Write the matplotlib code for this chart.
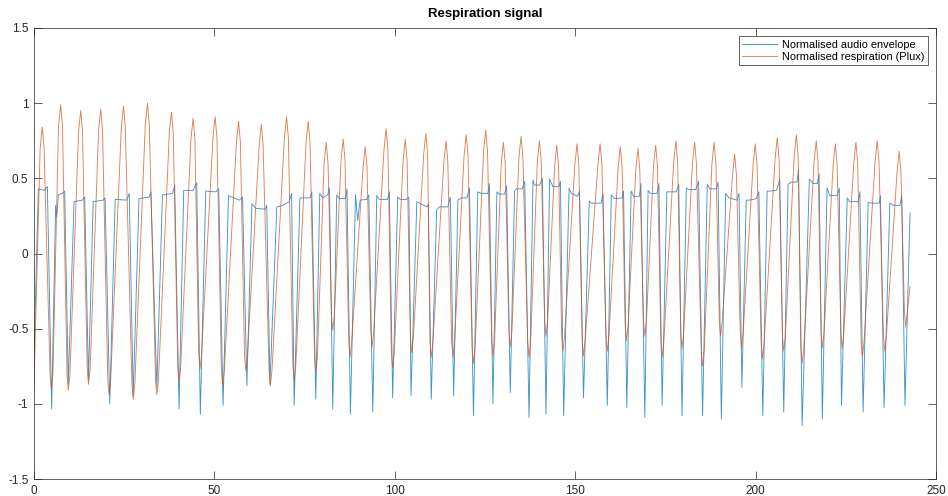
import matplotlib
matplotlib.use('Agg')
import matplotlib.pyplot as plt

plt.rcParams['font.family'] = ['Liberation Sans', 'DejaVu Sans']
plt.rcParams['axes.unicode_minus'] = False

# Normalised respiration (Plux).
# one row per breath: peak shoulder, peak, peak shoulder, trough shoulder, trough, trough shoulder
resp_t = [0,
          1.7, 2.3, 2.8, 4.45, 4.8, 5.25,
          6.8, 7.4, 7.9, 9.15, 9.5, 9.95,
          12.35, 12.95, 13.45, 14.75, 15.1, 15.55,
          17.9, 18.5, 19.0, 20.45, 20.8, 21.25,
          24.2, 24.8, 25.3, 27.15, 27.5, 27.95,
          30.85, 31.45, 31.95, 33.7, 34.05, 34.5,
          37.5, 38.1, 38.6, 39.85, 40.2, 40.65,
          43.5, 44.1, 44.6, 45.65, 46.0, 46.45,
          49.6, 50.2, 50.7, 51.95, 52.3, 52.75,
          56.1, 56.7, 57.2, 58.35, 58.7, 59.15,
          62.4, 63.0, 63.5, 65.15, 65.5, 65.95,
          69.4, 70.0, 70.5, 71.75, 72.1, 72.55,
          75.4, 76.0, 76.5, 77.75, 78.1, 78.55,
          80.4, 81.0, 81.5, 82.45, 82.8, 83.25,
          85.1, 85.7, 86.2, 87.25, 87.6, 88.05,
          91.2, 91.8, 92.3, 93.35, 93.7, 94.15,
          97.0, 97.6, 98.1, 99.05, 99.4, 99.85,
          102.3, 102.9, 103.4, 104.35, 104.7, 105.15,
          108.0, 108.6, 109.1, 109.75, 110.1, 110.55,
          113.6, 114.2, 114.7, 115.75, 116.1, 116.55,
          119.2, 119.8, 120.3, 121.45, 121.8, 122.25,
          124.6, 125.2, 125.7, 126.85, 127.2, 127.65,
          129.5, 130.1, 130.6, 131.65, 132.0, 132.45,
          134.4, 135.0, 135.5, 136.85, 137.2, 137.65,
          139.5, 140.1, 140.6, 141.55, 141.9, 142.35,
          144.3, 144.9, 145.4, 146.25, 146.6, 147.05,
          149.9, 150.5, 151.0, 151.95, 152.3, 152.75,
          156.3, 156.9, 157.4, 158.55, 158.9, 159.35,
          161.9, 162.5, 163.0, 163.85, 164.2, 164.65,
          166.8, 167.4, 167.9, 168.95, 169.3, 169.75,
          171.7, 172.3, 172.8, 173.75, 174.1, 174.55,
          177.3, 177.9, 178.4, 179.25, 179.6, 180.05,
          182.5, 183.1, 183.6, 184.95, 185.3, 185.75,
          187.9, 188.5, 189.0, 189.95, 190.3, 190.75,
          193.6, 194.2, 194.7, 195.75, 196.1, 196.55,
          199.3, 199.9, 200.4, 201.55, 201.9, 202.35,
          205.4, 206.0, 206.5, 207.45, 207.8, 208.25,
          210.7, 211.3, 211.8, 212.55, 212.9, 213.35,
          216.2, 216.8, 217.3, 218.15, 218.5, 218.95,
          221.5, 222.1, 222.6, 223.65, 224.0, 224.45,
          227.2, 227.8, 228.3, 229.25, 229.6, 230.05,
          233.1, 233.7, 234.2, 235.45, 235.8, 236.25,
          239.2, 239.8, 240.3, 241.25, 241.6, 242.05,
          242.8]
resp_y = [-0.88,
          0.70, 0.84, 0.70, -0.80, -0.90, -0.80,
          0.85, 0.99, 0.85, -0.81, -0.91, -0.81,
          0.81, 0.95, 0.81, -0.77, -0.87, -0.77,
          0.82, 0.96, 0.82, -0.84, -0.94, -0.84,
          0.84, 0.98, 0.84, -0.87, -0.97, -0.87,
          0.86, 1.00, 0.86, -0.84, -0.94, -0.84,
          0.80, 0.94, 0.80, -0.75, -0.85, -0.75,
          0.76, 0.90, 0.76, -0.67, -0.77, -0.67,
          0.77, 0.91, 0.77, -0.78, -0.88, -0.78,
          0.74, 0.88, 0.74, -0.68, -0.78, -0.68,
          0.72, 0.86, 0.72, -0.78, -0.88, -0.78,
          0.77, 0.91, 0.77, -0.75, -0.85, -0.75,
          0.74, 0.88, 0.74, -0.69, -0.79, -0.69,
          0.60, 0.74, 0.60, -0.41, -0.51, -0.41,
          0.62, 0.76, 0.62, -0.59, -0.69, -0.59,
          0.57, 0.71, 0.57, -0.52, -0.62, -0.52,
          0.69, 0.83, 0.69, -0.66, -0.76, -0.66,
          0.62, 0.76, 0.62, -0.56, -0.66, -0.56,
          0.66, 0.80, 0.66, -0.59, -0.69, -0.59,
          0.61, 0.75, 0.61, -0.59, -0.69, -0.59,
          0.65, 0.79, 0.65, -0.63, -0.73, -0.63,
          0.68, 0.82, 0.68, -0.58, -0.68, -0.58,
          0.60, 0.74, 0.60, -0.52, -0.62, -0.52,
          0.64, 0.78, 0.64, -0.59, -0.69, -0.59,
          0.61, 0.75, 0.61, -0.45, -0.55, -0.45,
          0.58, 0.72, 0.58, -0.55, -0.65, -0.55,
          0.59, 0.73, 0.59, -0.58, -0.68, -0.58,
          0.59, 0.73, 0.59, -0.55, -0.65, -0.55,
          0.57, 0.71, 0.57, -0.48, -0.58, -0.48,
          0.56, 0.70, 0.56, -0.45, -0.55, -0.45,
          0.58, 0.72, 0.58, -0.59, -0.69, -0.59,
          0.61, 0.75, 0.61, -0.53, -0.63, -0.53,
          0.60, 0.74, 0.60, -0.65, -0.75, -0.65,
          0.60, 0.74, 0.60, -0.45, -0.55, -0.45,
          0.52, 0.66, 0.52, -0.53, -0.63, -0.53,
          0.59, 0.73, 0.59, -0.60, -0.70, -0.60,
          0.63, 0.77, 0.63, -0.55, -0.65, -0.55,
          0.65, 0.79, 0.65, -0.63, -0.73, -0.63,
          0.61, 0.75, 0.61, -0.53, -0.63, -0.53,
          0.59, 0.73, 0.59, -0.53, -0.63, -0.53,
          0.60, 0.74, 0.60, -0.59, -0.69, -0.59,
          0.61, 0.75, 0.61, -0.55, -0.65, -0.55,
          0.54, 0.68, 0.54, -0.39, -0.49, -0.39,
          -0.22]

# Normalised audio envelope: troughs, plateau start/end and end spike of each breath
env_t = [0, 1.2, 2.8, 3.7, 4.9, 6.0, 6.3, 6.75, 7.9, 8.5,
         9.5, 11.1, 13.4, 14.05, 15.1, 16.4, 19.15, 19.7, 21.0, 22.5,
         25.7, 26.4, 27.5, 29.1, 31.9, 32.4, 34.05, 35.6, 38.4, 39.0,
         40.2, 41.5, 44.1, 45.1, 46.1, 47.6, 50.4, 51.2, 52.4, 53.9,
         56.9, 57.8, 59.0, 60.4, 61.5, 64.1, 64.5, 65.4, 67.3, 68.9,
         70.75, 71.4, 72.1, 73.7, 76.5, 77.0, 78.1, 79.2, 80.0, 81.4,
         81.9, 82.8, 83.9, 84.6, 86.3, 86.75, 87.7, 89.1, 89.7, 90.4,
         92.2, 92.8, 93.9, 95.0, 95.7, 98.0, 98.5, 99.4, 100.8, 101.5,
         103.3, 103.9, 104.5, 106.1, 108.9, 109.3, 110.1, 111.6, 112.4, 114.7,
         115.4, 116.3, 117.5, 118.4, 120.0, 120.7, 121.8, 123.0, 123.9, 125.8,
         126.2, 127.2, 128.3, 128.9, 130.4, 131.0, 132.0, 133.2, 133.7, 135.3,
         136.0, 137.2, 138.3, 138.7, 140.1, 140.9, 141.9, 142.9, 143.8, 145.5,
         145.9, 146.8, 148.3, 148.9, 150.7, 151.2, 152.3, 153.9, 154.4, 157.2,
         157.7, 158.9, 160.0, 160.9, 163.0, 163.4, 164.3, 165.5, 166.2, 167.8,
         168.2, 169.3, 170.2, 170.8, 172.7, 173.2, 174.1, 175.4, 176.0, 178.0,
         178.7, 179.6, 180.8, 181.5, 183.4, 184.2, 185.3, 186.6, 187.3, 189.1,
         189.6, 190.5, 191.7, 192.6, 194.8, 195.4, 196.2, 197.4, 198.4, 200.2,
         200.9, 202.0, 203.2, 203.9, 205.8, 206.7, 207.8, 209.0, 209.9, 211.5,
         211.9, 212.9, 214.9, 216.0, 217.1, 217.6, 218.5, 219.8, 220.6, 222.6,
         223.2, 223.8, 225.4, 226.1, 228.4, 228.9, 229.8, 231.2, 232.1, 234.3,
         234.6, 235.6, 237.2, 238.2, 240.0, 240.5, 241.4, 242.8]
env_y = [-0.70, 0.43, 0.42, 0.445, -1.035, 0.32, 0.245, 0.39, 0.40, 0.415,
         -0.87, 0.345, 0.355, 0.375, -0.84, 0.345, 0.355, 0.37, -1.00, 0.36,
         0.355, 0.40, -0.95, 0.365, 0.375, 0.41, -0.89, 0.39, 0.40, 0.455,
         -1.035, 0.42, 0.42, 0.47, -1.07, 0.415, 0.41, 0.43, -1.01, 0.385,
         0.355, 0.375, -0.88, 0.33, 0.30, 0.295, 0.32, -0.87, 0.31, 0.32,
         0.345, 0.40, -1.01, 0.37, 0.37, 0.41, -0.97, 0.40, 0.37, 0.39,
         0.435, -1.035, 0.39, 0.365, 0.365, 0.43, -1.07, 0.39, 0.22, 0.355,
         0.36, 0.39, -1.055, 0.385, 0.36, 0.36, 0.41, -0.96, 0.375, 0.36,
         0.36, 0.375, -0.945, 0.345, 0.31, 0.33, -0.97, 0.29, 0.31, 0.31,
         0.375, -0.945, 0.355, 0.37, 0.37, 0.435, -1.08, 0.41, 0.40, 0.40,
         0.465, -1.00, 0.41, 0.395, 0.395, 0.45, -0.925, 0.415, 0.43, 0.43,
         0.48, -1.09, 0.49, 0.455, 0.455, 0.50, -1.07, 0.495, 0.445, 0.445,
         0.48, -1.08, 0.435, 0.40, 0.38, 0.415, -0.96, 0.35, 0.335, 0.335,
         0.40, -1.01, 0.39, 0.365, 0.37, 0.415, -1.025, 0.415, 0.38, 0.38,
         0.465, -1.09, 0.42, 0.40, 0.40, 0.465, -1.01, 0.41, 0.41, 0.41,
         0.46, -1.08, 0.435, 0.425, 0.425, 0.48, -1.08, 0.46, 0.43, 0.43,
         0.475, -1.10, 0.40, 0.37, 0.355, 0.40, -0.89, 0.355, 0.355, 0.365,
         0.41, -1.08, 0.415, 0.415, 0.42, 0.49, -1.055, 0.46, 0.475, 0.475,
         0.56, -1.145, 0.495, 0.465, 0.465, 0.53, -1.10, 0.435, 0.385, 0.385,
         0.435, -1.01, 0.37, 0.345, 0.345, 0.41, -1.055, 0.34, 0.335, 0.335,
         0.385, -1.025, 0.335, 0.32, 0.32, 0.385, -1.01, 0.27]

labels = ['Normalised audio envelope', 'Normalised respiration (Plux)']
x_ticks = [0, 50, 100, 150, 200, 250]
y_ticks = [-1.5, -1, -0.5, 0, 0.5, 1, 1.5]
y_tick_labels = ['-1.5', '-1', '-0.5', '0', '0.5', '1', '1.5']

fig = plt.figure(figsize=(9.48, 4.96), dpi=100)
ax = fig.add_axes([34 / 948, 1 - 479 / 496, 902 / 948, 451 / 496])

ax.plot(env_t, env_y, color='#0072BD', lw=0.65, alpha=0.75, label=labels[0])
ax.plot(resp_t, resp_y, color='#D95319', lw=0.65, alpha=0.75, label=labels[1])

ax.set_xlim(0, 250)
ax.set_ylim(-1.5, 1.5)
ax.set_xticks(x_ticks)
ax.set_yticks(y_ticks)
ax.set_yticklabels(y_tick_labels)
ax.tick_params(direction='in', length=6, width=0.5, colors='#262626',
               labelsize=8.5, top=True, right=True, pad=4)
for s in ax.spines.values():
    s.set_color('#262626')
    s.set_linewidth(0.5)

ax.set_title('Respiration signal', fontsize=9.5, fontweight='bold',
             color='black', pad=8)

leg = ax.legend(loc='upper right', fontsize=7.9, fancybox=False, framealpha=1,
                edgecolor='#262626', handlelength=3.2, handletextpad=0.45,
                borderaxespad=0.75, labelspacing=0.2, borderpad=0.3)
leg.get_frame().set_linewidth(0.5)

fig.savefig('out.png', dpi=100, facecolor='white')
